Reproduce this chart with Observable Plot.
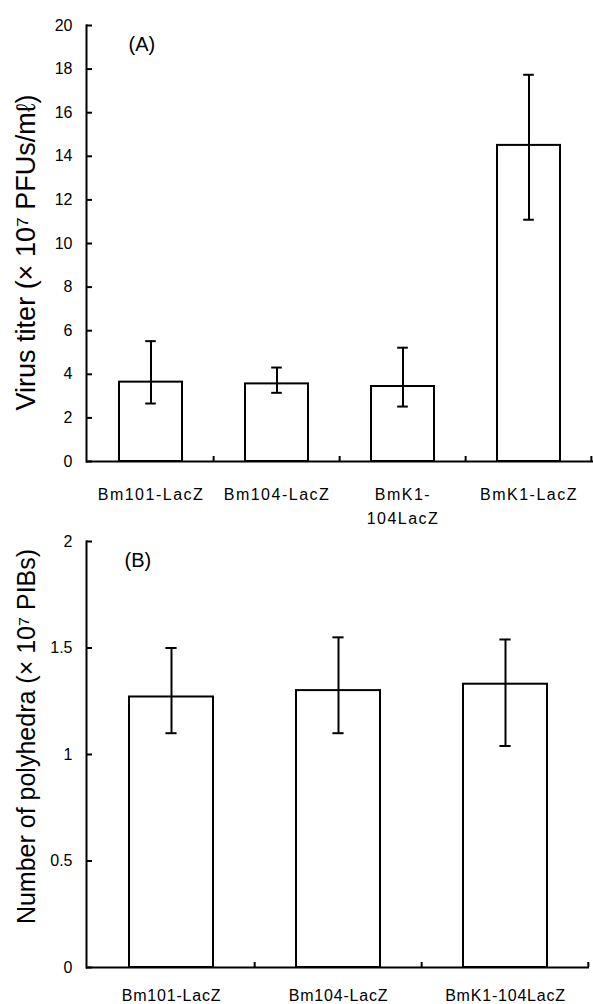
<!DOCTYPE html>
<html><head><meta charset="utf-8">
<script src="https://cdn.jsdelivr.net/npm/d3@7"></script>
<script src="https://cdn.jsdelivr.net/npm/@observablehq/plot@0.6"></script>
<style>
body{margin:0;background:#fff;}
#wrap{width:593px;}
svg{display:block;overflow:visible;}
.pa g[aria-label="x-axis tick label"] text{letter-spacing:1.5px;}
.pb g[aria-label="x-axis tick label"] text{letter-spacing:0.8px;}
</style></head>
<body><div id="wrap"></div>
<script>
// Panel A: virus titer
const catsA = ["Bm101-LacZ", "Bm104-LacZ", "BmK1-\n104LacZ", "BmK1-LacZ"];
const titerMean = [3.64, 3.56, 3.44, 14.5];
const titerLow = [2.66, 3.15, 2.52, 11.09];
const titerHigh = [5.52, 4.31, 5.22, 17.74];
const yTicksA = [0, 2, 4, 6, 8, 10, 12, 14, 16, 18, 20];

// Panel B: polyhedra
const catsB = ["Bm101-LacZ", "Bm104-LacZ", "BmK1-104LacZ"];
const polyMean = [1.27, 1.30, 1.33];
const polyLow = [1.10, 1.10, 1.04];
const polyHigh = [1.50, 1.55, 1.54];
const yTicksB = [0, 0.5, 1, 1.5, 2];

const FONT = "'Liberation Sans', Arial, sans-serif";

function panel({cls, cats, mean, low, high, yTicks, yMax, height, mt, mb, mr, label, labelSize, labelDy, panelLabel, panelDx, panelDy, labelPad, capW, labelDx}) {
  const data = cats.map((c, i) => ({c, v: mean[i], lo: low[i], hi: high[i]}));
  const W = 593, ml = 86;
  const step = (W - ml - mr) / cats.length;
  const bw = step * 0.5;
  const pxPerUnit = (height - mt - mb) / yMax;
  const tickLen = 5 / pxPerUnit;
  const inset = (bw - capW) / 2;
  const svg = Plot.plot({
    width: W, height,
    marginLeft: ml, marginRight: mr, marginTop: mt, marginBottom: mb,
    style: {fontFamily: FONT, fontSize: "16px", color: "#000", background: "#fff", overflow: "visible"},
    x: {domain: cats, paddingInner: 0.5, paddingOuter: 0.25, label: null},
    y: {domain: [0, yMax], label: null},
    marks: [
      Plot.barY(data, {x: "c", y: "v", fill: "white", stroke: "black", strokeWidth: 2}),
      Plot.ruleX(data, {x: "c", y1: "lo", y2: "hi", stroke: "black", strokeWidth: 2}),
      Plot.tickY(data, {x: "c", y: "lo", stroke: "black", strokeWidth: 2, insetLeft: inset, insetRight: inset}),
      Plot.tickY(data, {x: "c", y: "hi", stroke: "black", strokeWidth: 2, insetLeft: inset, insetRight: inset}),
      Plot.ruleX(cats.slice(1), {x: d => d, dx: -step / 2, y1: 0, y2: tickLen, stroke: "black", strokeWidth: 2}),
      Plot.ruleX(cats.slice(-1), {x: d => d, dx: step / 2 - 1, y1: 0, y2: tickLen, stroke: "black", strokeWidth: 2}),
      Plot.axisY({ticks: yTicks, tickSize: -6, tickPadding: 20, tickFormat: d => String(d), strokeWidth: 2, label: null, fontSize: 16}),
      Plot.axisX({tickSize: 0, tickPadding: labelPad, label: null, fontSize: 16, lineHeight: 1.5}),
      Plot.ruleY([0], {stroke: "black", strokeWidth: 2}),
      Plot.frame({anchor: "left", stroke: "black", strokeWidth: 2}),
      Plot.text([label], {frameAnchor: "left", textAnchor: "middle", rotate: -90, dx: labelDx, dy: labelDy, fontSize: labelSize, fill: "black"}),
      Plot.text([panelLabel], {frameAnchor: "top-left", dx: panelDx, dy: panelDy, fontSize: 20, fill: "black", textAnchor: "start"})
    ]
  });
  svg.classList.add(cls);
  return svg;
}

const wrap = document.getElementById("wrap");
wrap.append(panel({
  cls: "pa", cats: catsA, mean: titerMean, low: titerLow, high: titerHigh, yTicks: yTicksA, yMax: 20,
  height: 520, mt: 25, mb: 59, mr: 0, label: "Virus titer (× 10⁷ PFUs/mℓ)", labelSize: 27, labelDy: 9,
  panelLabel: "(A)", panelDx: 42, panelDy: 11, labelPad: 21, capW: 11, labelDx: -60
}));
wrap.append(panel({
  cls: "pb", cats: catsB, mean: polyMean, low: polyLow, high: polyHigh, yTicks: yTicksB, yMax: 2,
  height: 484, mt: 21, mb: 37, mr: 4, label: "Number of polyhedra (× 10⁷ PIBs)", labelSize: 25, labelDy: -18,
  panelLabel: "(B)", panelDx: 38, panelDy: 11, labelPad: 16, capW: 11, labelDx: -60
}));
</script></body></html>
